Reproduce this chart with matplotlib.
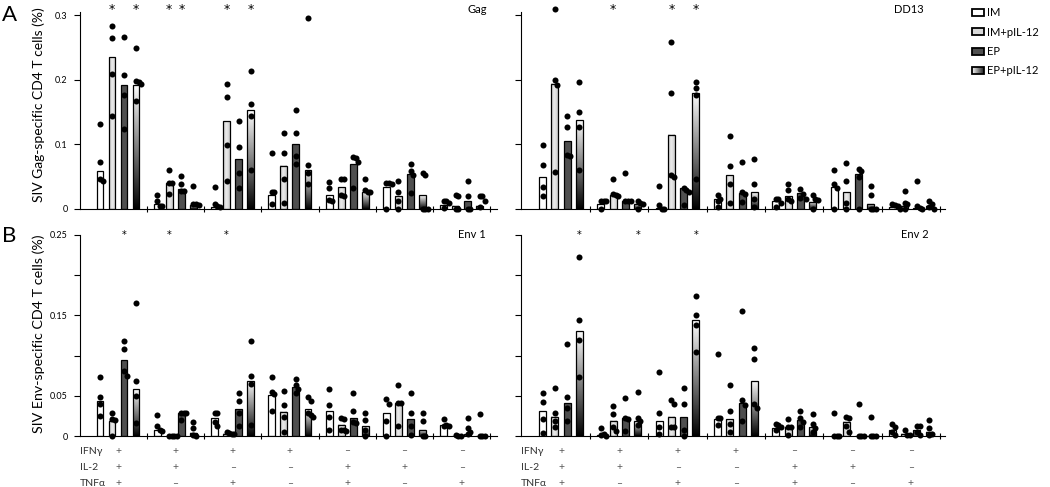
import numpy as np
import matplotlib
matplotlib.use('Agg')
from matplotlib import pyplot as plt
from matplotlib.patches import Rectangle
from matplotlib.legend_handler import HandlerBase

plt.rcParams['font.family'] = ['Lato', 'DejaVu Sans']

series = ['IM', 'IM+pIL-12', 'EP', 'EP+pIL-12']
row_names = ['IFNγ', 'IL-2', 'TNFα']
ifng = ['+', '+', '+', '+', '–', '–', '–']
il2 = ['+', '+', '–', '–', '+', '+', '–']
tnfa = ['+', '–', '+', '–', '+', '–', '+']

# bar heights, one row per cytokine combination: IM, IM+pIL-12, EP, EP+pIL-12
gag_bars = [[0.059, 0.235, 0.192, 0.192],
            [0.007, 0.040, 0.031, 0.006],
            [0.003, 0.136, 0.077, 0.153],
            [0.022, 0.067, 0.100, 0.061],
            [0.022, 0.034, 0.069, 0.027],
            [0.034, 0.020, 0.054, 0.021],
            [0.006, 0.005, 0.012, 0.005]]
gag_dots = [[[0.131, 0.073, 0.046, 0.043], [0.284, 0.264, 0.209, 0.144], [0.267, 0.207, 0.177, 0.124], [0.249, 0.198, 0.196, 0.194, 0.167]],
            [[0.021, 0.012, 0.005, 0.004], [0.061, 0.040, 0.040, 0.023], [0.051, 0.038, 0.028, 0.028], [0.036, 0.008, 0.007, 0.006]],
            [[0.034, 0.008, 0.004, 0.003], [0.194, 0.174, 0.099, 0.044], [0.137, 0.096, 0.056, 0.032], [0.214, 0.162, 0.144, 0.060]],
            [[0.087, 0.027, 0.026, 0.008], [0.118, 0.087, 0.047, 0.010], [0.154, 0.117, 0.082, 0.069], [0.296, 0.068, 0.055, 0.039]],
            [[0.042, 0.032, 0.014, 0.012], [0.047, 0.046, 0.022, 0.020], [0.081, 0.079, 0.073, 0.032], [0.046, 0.029, 0.026, 0.026]],
            [[0.041, 0.041, 0.039, 0.0], [0.043, 0.026, 0.012, 0.0], [0.069, 0.059, 0.053, 0.025], [0.055, 0.053, 0.0, 0.0, 0.0]],
            [[0.013, 0.012, 0.009, 0.002], [0.022, 0.020, 0.0, 0.0], [0.044, 0.020, 0.0, 0.0], [0.020, 0.020, 0.012, 0.003]]]
gag_stars = [(0, 1), (0, 3), (1, 1), (1, 2), (2, 1), (2, 3)]

dd13_bars = [[0.050, 0.194, 0.105, 0.138],
             [0.008, 0.021, 0.012, 0.008],
             [0.002, 0.115, 0.033, 0.180],
             [0.015, 0.052, 0.024, 0.026],
             [0.012, 0.020, 0.025, 0.011],
             [0.034, 0.026, 0.054, 0.008],
             [0.003, 0.005, 0.002, 0.005]]
dd13_dots = [[[0.099, 0.068, 0.034, 0.020], [0.310, 0.199, 0.192, 0.058], [0.144, 0.127, 0.084, 0.082], [0.197, 0.150, 0.127, 0.060]],
             [[0.013, 0.013, 0.012, 0.0], [0.046, 0.023, 0.021, 0.020], [0.055, 0.012, 0.012, 0.012], [0.012, 0.010, 0.008, 0.0]],
             [[0.036, 0.006, 0.0, 0.0], [0.258, 0.179, 0.052, 0.050], [0.032, 0.030, 0.027, 0.006], [0.197, 0.188, 0.177, 0.047]],
             [[0.022, 0.015, 0.013, 0.003], [0.113, 0.067, 0.039, 0.010], [0.073, 0.027, 0.023, 0.011], [0.078, 0.038, 0.016, 0.003]],
             [[0.016, 0.015, 0.009, 0.003], [0.039, 0.029, 0.015, 0.012], [0.031, 0.023, 0.017, 0.015], [0.022, 0.016, 0.014, 0.0]],
             [[0.061, 0.039, 0.033, 0.0], [0.071, 0.043, 0.009, 0.0], [0.062, 0.059, 0.049, 0.0], [0.036, 0.021, 0.0, 0.0, 0.0]],
             [[0.007, 0.006, 0.004, 0.0], [0.028, 0.009, 0.008, 0.0], [0.043, 0.004, 0.002, 0.0], [0.013, 0.008, 0.003, 0.0]]]
dd13_stars = [(1, 1), (2, 1), (2, 3)]

env1_bars = [[0.043, 0.019, 0.094, 0.058],
             [0.008, 0.0, 0.029, 0.004],
             [0.022, 0.003, 0.034, 0.069],
             [0.051, 0.030, 0.061, 0.033],
             [0.031, 0.014, 0.023, 0.012],
             [0.029, 0.041, 0.021, 0.008],
             [0.014, 0.0, 0.003, 0.0]]
env1_dots = [[[0.073, 0.048, 0.040, 0.025], [0.029, 0.021, 0.020, 0.0], [0.118, 0.108, 0.081, 0.075], [0.165, 0.068, 0.050, 0.016]],
             [[0.026, 0.012, 0.007, 0.006], [0.0, 0.0, 0.0, 0.0], [0.029, 0.028, 0.028, 0.020], [0.018, 0.0095, 0.001, 0.0]],
             [[0.028, 0.028, 0.018, 0.012], [0.005, 0.004, 0.003, 0.003], [0.054, 0.043, 0.028, 0.012], [0.118, 0.075, 0.065, 0.014]],
             [[0.074, 0.055, 0.052, 0.031], [0.056, 0.038, 0.024, 0.005], [0.071, 0.063, 0.058, 0.053], [0.049, 0.043, 0.028, 0.026, 0.024]],
             [[0.058, 0.038, 0.024, 0.008], [0.022, 0.021, 0.008, 0.007, 0.006], [0.054, 0.031, 0.018, 0.016], [0.028, 0.020, 0.008, 0.0]],
             [[0.046, 0.040, 0.019, 0.0], [0.063, 0.041, 0.041, 0.012], [0.054, 0.029, 0.013, 0.001], [0.029, 0.019, 0.0, 0.0]],
             [[0.021, 0.014, 0.013, 0.013], [0.001, 0.0, 0.0], [0.023, 0.0095, 0.0045, 0.002], [0.027, 0.0, 0.0, 0.0]]]
env1_stars = [(0, 2), (1, 1), (2, 1)]

env2_bars = [[0.031, 0.024, 0.041, 0.131],
             [0.001, 0.019, 0.023, 0.019],
             [0.019, 0.024, 0.024, 0.144],
             [0.021, 0.021, 0.041, 0.069],
             [0.0095, 0.011, 0.020, 0.011],
             [0.0, 0.018, 0.0, 0.0],
             [0.007, 0.003, 0.007, 0.005]]
env2_dots = [[[0.053, 0.042, 0.021, 0.004], [0.060, 0.029, 0.019, 0.011], [0.115, 0.048, 0.035, 0.019], [0.223, 0.144, 0.119, 0.073]],
             [[0.0095, 0.003, 0.001, 0.0], [0.037, 0.027, 0.011, 0.006], [0.047, 0.022, 0.021, 0.0066], [0.055, 0.022, 0.019, 0.014]],
             [[0.079, 0.029, 0.011, 0.003], [0.045, 0.040, 0.011, 0.011], [0.060, 0.040, 0.008, 0.0], [0.174, 0.150, 0.138, 0.104]],
             [[0.102, 0.023, 0.022, 0.014], [0.064, 0.031, 0.015, 0.005], [0.156, 0.045, 0.038, 0.019], [0.110, 0.096, 0.040, 0.035]],
             [[0.015, 0.014, 0.011, 0.007], [0.021, 0.011, 0.011, 0.001], [0.031, 0.023, 0.018, 0.011], [0.027, 0.0145, 0.0095, 0.005]],
             [[0.028, 0.0, 0.0, 0.0], [0.024, 0.022, 0.012, 0.005], [0.040, 0.0, 0.0, 0.0], [0.024, 0.0, 0.0, 0.0]],
             [[0.0145, 0.011, 0.005, 0.001], [0.007, 0.001, 0.001], [0.013, 0.013, 0.005, 0.001], [0.020, 0.0095, 0.003, 0.001]]]
env2_stars = [(0, 3), (1, 3), (2, 3)]

offsets = [-0.315, -0.105, 0.105, 0.315]
bar_w = 0.12
light = 0.80 + 0.12 * (1 - np.abs(np.linspace(-1, 1, 32)))


def swarm(vals, thr, step):
    # shift dots sideways when they would overlap a dot already placed
    placed = []
    for v in sorted(vals, reverse=True):
        k = 0
        while any(abs(v - pv) < thr and pk == k for pv, pk in placed):
            k += 1
        placed.append((v, k))
    return [k * step for v, k in placed], [v for v, k in placed]


def draw_panel(ax, bars, dots, stars, title, title_x, ytop, star_y, star_fs, thr):
    bars = np.array(bars)
    xs = np.arange(len(bars))
    for s in range(4):
        pos = xs + offsets[s]
        if s == 0:
            rects = ax.bar(pos, bars[:, s], bar_w, color='white', edgecolor='k', lw=0.9, zorder=2)
        elif s == 2:
            rects = ax.bar(pos, bars[:, s], bar_w, color='#4f4f4f', edgecolor='k', lw=0.9, zorder=2)
        else:
            rects = ax.bar(pos, bars[:, s], bar_w, color='none', edgecolor='k', lw=0.9, zorder=2)
            for r in rects:
                if r.get_height() <= 0:
                    continue
                ext = (r.get_x(), r.get_x() + r.get_width(), 0, r.get_height())
                if s == 1:
                    img = light.reshape(1, -1)
                else:
                    img = np.linspace(0.0, 1.0, 256).reshape(-1, 1)
                ax.imshow(img, extent=ext, cmap='gray', vmin=0, vmax=1, aspect='auto',
                          origin='lower', interpolation='bilinear', zorder=1)
        for g in range(len(bars)):
            dx, dy = swarm(dots[g][s], thr, 0.045)
            ax.scatter(g + offsets[s] + np.array(dx), dy, s=19, c='k', linewidths=0,
                       zorder=4, clip_on=False)
    for g, s in stars:
        ax.text(g + offsets[s], star_y, '*', ha='center', va='center', fontsize=star_fs,
                family='DejaVu Sans')
    ax.text(title_x, star_y, title, transform=ax.get_yaxis_transform(), ha='center',
            va='center', fontsize=8)
    ax.set_ylim(0, ytop)
    ax.set_aspect('auto')
    ax.spines['top'].set_visible(False)
    ax.spines['right'].set_visible(False)
    for sp in ('left', 'bottom'):
        ax.spines[sp].set_linewidth(0.8)
    ax.set_xticks(np.arange(0.5, 7, 1))
    ax.tick_params(axis='x', direction='inout', length=5, width=0.8, labelbottom=False)
    ax.tick_params(axis='y', direction='out', length=4, width=0.8, labelsize=6.5, pad=5)


def draw_table(ax):
    for r, (name, signs) in enumerate(zip(row_names, [ifng, il2, tnfa])):
        yy = -0.075 - 0.08 * r
        ax.text(0.0, yy, name, transform=ax.transAxes, ha='left', va='center',
                fontsize=7.5, color='#333333', clip_on=False)
        for g, sg in enumerate(signs):
            ax.text(g, yy, sg, transform=ax.get_xaxis_transform(), ha='center',
                    va='center', fontsize=7.5, color='#555555', clip_on=False)


class GradHandler(HandlerBase):
    def create_artists(self, legend, orig_handle, xdescent, ydescent, width, height,
                       fontsize, trans):
        arts = []
        n = 12
        for i in range(n):
            c = str(0.95 - 0.8 * i / (n - 1))
            arts.append(Rectangle((-xdescent + width * i / n, -ydescent), width / n, height,
                                  facecolor=c, edgecolor='none', transform=trans))
        arts.append(Rectangle((-xdescent, -ydescent), width, height, facecolor='none',
                              edgecolor='k', lw=1.3, transform=trans))
        return arts


fig = plt.figure(figsize=(10.5, 4.87), dpi=100)
W, H = 1050.0, 487.0
ax_a1 = fig.add_axes([80 / W, 1 - 209 / H, 417 / W, 197 / H])
ax_a2 = fig.add_axes([521 / W, 1 - 209 / H, 424 / W, 197 / H])
ax_b1 = fig.add_axes([80 / W, 1 - 436 / H, 417 / W, 201 / H])
ax_b2 = fig.add_axes([521 / W, 1 - 436 / H, 424 / W, 201 / H])

draw_panel(ax_a1, gag_bars, gag_dots, gag_stars, 'Gag', 0.952, 0.305, 0.3085, 9, 0.009)
draw_panel(ax_a2, dd13_bars, dd13_dots, dd13_stars, 'DD13', 0.915, 0.305, 0.3085, 9, 0.009)
draw_panel(ax_b1, env1_bars, env1_dots, env1_stars, 'Env 1', 0.94, 0.25, 0.2505, 7, 0.0072)
draw_panel(ax_b2, env2_bars, env2_dots, env2_stars, 'Env 2', 0.929, 0.25, 0.2505, 7, 0.0072)

ax_a1.set_xlim(-0.663, 6.614)
ax_b1.set_xlim(-0.663, 6.614)
ax_a2.set_xlim(-0.686, 6.587)
ax_b2.set_xlim(-0.686, 6.587)

for ax in (ax_a1, ax_a2):
    ax.set_yticks([0, 0.1, 0.2, 0.3])
ax_a1.set_yticklabels(['0', '0.1', '0.2', '0.3'])
ax_a2.set_yticklabels([])
for ax in (ax_b1, ax_b2):
    ax.set_yticks([0, 0.05, 0.1, 0.15, 0.2, 0.25])
ax_b1.set_yticklabels(['0', '0.05', '', '0.15', '', '0.25'])
ax_b2.set_yticklabels([])

ax_a1.set_ylabel('SIV Gag-specific CD4 T cells (%)', fontsize=10)
ax_b1.set_ylabel('SIV Env-specific CD4 T cells (%)', fontsize=10.3)
ax_a1.yaxis.set_label_coords(-0.083, 0.53)
ax_b1.yaxis.set_label_coords(-0.083, 0.51)

draw_table(ax_b1)
draw_table(ax_b2)

fig.text(2 / W, 1 - 5 / H, 'A', fontsize=16, va='top', ha='left')
fig.text(2 / W, 1 - 226 / H, 'B', fontsize=16, va='top', ha='left')

handles = [Rectangle((0, 0), 1, 1, facecolor='white', edgecolor='k', lw=1.3),
           Rectangle((0, 0), 1, 1, facecolor='#d8d8d8', edgecolor='k', lw=1.3),
           Rectangle((0, 0), 1, 1, facecolor='#4f4f4f', edgecolor='k', lw=1.3),
           Rectangle((0, 0), 1, 1)]
fig.legend(handles, series, loc='upper left', bbox_to_anchor=(968 / W, 1 - 3 / H),
           frameon=False, fontsize=8, handlelength=1.0, handleheight=0.6,
           handletextpad=0.35, labelspacing=0.75, borderaxespad=0,
           handler_map={handles[3]: GradHandler()})

fig.savefig('out.png', dpi=100)
